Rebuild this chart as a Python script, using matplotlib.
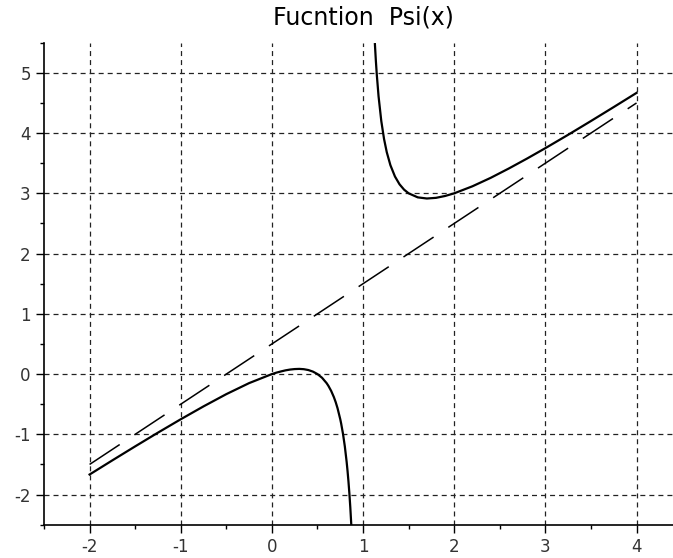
import matplotlib
matplotlib.use("Agg")
import matplotlib.pyplot as plt
from matplotlib.ticker import MultipleLocator

# Values
lower_x = [-2.0, -1.75, -1.5, -1.25, -1.0, -0.75, -0.5, -0.25, 0.0, 0.05, 0.1, 0.15,
           0.2, 0.25, 0.3, 0.35, 0.4, 0.45, 0.5, 0.55, 0.6, 0.62, 0.65, 0.68, 0.7,
           0.72, 0.75, 0.76, 0.78, 0.8, 0.82, 0.83, 0.84, 0.85, 0.86, 0.871]
lower_y = [-1.667, -1.432, -1.2, -0.972, -0.75, -0.536, -0.333, -0.15, 0.0, 0.024, 0.044, 0.062,
           0.075, 0.083, 0.086, 0.081, 0.067, 0.041, 0.0, -0.061, -0.15, -0.196, -0.279, -0.383, -0.467,
           -0.566, -0.75, -0.823, -0.993, -1.2, -1.458, -1.611, -1.785, -1.983, -2.211, -2.505]

upper_x = [1.13, 1.14, 1.15, 1.17, 1.2, 1.23, 1.26, 1.3, 1.35, 1.4, 1.45, 1.5, 1.6, 1.7,
           1.8, 1.9, 2.0, 2.2, 2.4, 2.6, 2.8, 3.0, 3.25, 3.5, 3.75, 4.0]
upper_y = [5.476, 5.211, 4.983, 4.611, 4.2, 3.904, 3.683, 3.467, 3.279, 3.15, 3.061, 3.0, 2.933, 2.914,
           2.925, 2.956, 3.0, 3.117, 3.257, 3.413, 3.578, 3.75, 3.972, 4.2, 4.432, 4.667]

asym_x = [-2.0, 4.0]
asym_y = [-1.5, 4.5]

title = "Fucntion  Psi(x)"
x_ticks = [-2, -1, 0, 1, 2, 3, 4]
y_ticks = [-2, -1, 0, 1, 2, 3, 4, 5]

plt.rcParams['axes.unicode_minus'] = False
plt.rcParams['lines.scale_dashes'] = False

fig = plt.figure(figsize=(6.73, 5.58), dpi=100)
ax = fig.add_axes([44 / 673, (558 - 524.7) / 558, 1 - 44 / 673, (524.7 - 42.7) / 558])

ax.plot(lower_x, lower_y, color='black', lw=1.6, zorder=3)
ax.plot(upper_x, upper_y, color='black', lw=1.6, zorder=3)
ax.plot(asym_x, asym_y, color='black', lw=1.1, dashes=(26, 12.7), zorder=3)

ax.set_xlim(-2.5, 4.4)
ax.set_ylim(-2.5, 5.5)
ax.set_xticks(x_ticks)
ax.set_yticks(y_ticks)
ax.xaxis.set_minor_locator(MultipleLocator(0.5))
ax.yaxis.set_minor_locator(MultipleLocator(0.5))
ax.tick_params(which='major', direction='out', length=6, width=1, labelsize=12, colors='black')
ax.tick_params(which='minor', direction='out', length=3, width=1)
for lab in ax.get_xticklabels() + ax.get_yticklabels():
    lab.set_color('#333333')

ax.spines['top'].set_visible(False)
ax.spines['right'].set_visible(False)
ax.spines['left'].set_linewidth(1.2)
ax.spines['bottom'].set_linewidth(1.2)

ax.grid(True, which='major', color='#222222', lw=0.9, dashes=(3.6, 2.9))

fig.text(363 / 673, 1 - 25 / 558, title, ha='center', va='baseline', fontsize=17, color='black')

fig.savefig("out.png", dpi=100)
